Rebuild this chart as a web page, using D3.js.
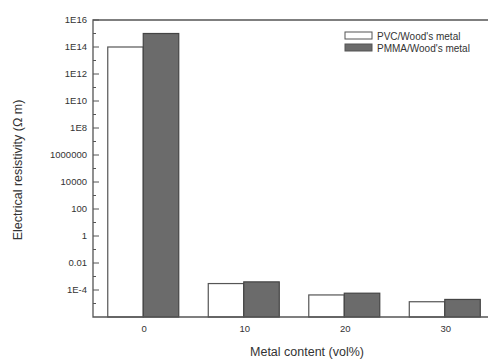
<!DOCTYPE html>
<html lang="en">
<meta charset="utf-8">
<style>
body { margin: 0; background: #fff; }
text { font-family: "Liberation Sans", Arial, sans-serif; fill: #333; }
</style>
<body>
<script src="https://cdnjs.cloudflare.com/ajax/libs/d3/7.8.5/d3.min.js"></script>
<div id="chart"></div>
<script>
// data
var contents = [0, 10, 20, 30];
var pvc = [1e14, 3e-4, 4.3e-5, 1.35e-5];
var pmma = [1e15, 4e-4, 5.8e-5, 2e-5];
var seriesNames = ["PVC/Wood's metal", "PMMA/Wood's metal"];
var yTickLabels = ["1E-4", "0.01", "1", "100", "10000", "1000000", "1E8", "1E10", "1E12", "1E14", "1E16"];
var yTickValues = [1e-4, 1e-2, 1, 1e2, 1e4, 1e6, 1e8, 1e10, 1e12, 1e14, 1e16];

var width = 488, height = 360;
var margin = {top: 20, right: 0, bottom: 43, left: 93};

var svg = d3.select("#chart").append("svg")
    .attr("width", width)
    .attr("height", height);

var x = d3.scaleLinear()
    .domain([-5, 34.3])
    .range([margin.left, width - margin.right]);

var y = d3.scaleLog()
    .domain([1e-6, 1e16])
    .range([height - margin.bottom, margin.top]);

var barW = 35.5;

// bars
var groups = svg.selectAll(".grp")
    .data(contents)
  .enter().append("g")
    .attr("class", "grp");

groups.append("rect")
    .attr("x", function(d) { return x(d) - barW; })
    .attr("y", function(d, i) { return y(pvc[i]); })
    .attr("width", barW)
    .attr("height", function(d, i) { return y(1e-6) - y(pvc[i]); })
    .style("fill", "#fff")
    .style("stroke", "#555")
    .style("stroke-width", 1.2);

groups.append("rect")
    .attr("x", function(d) { return x(d); })
    .attr("y", function(d, i) { return y(pmma[i]); })
    .attr("width", barW)
    .attr("height", function(d, i) { return y(1e-6) - y(pmma[i]); })
    .style("fill", "#6b6b6b")
    .style("stroke", "#444")
    .style("stroke-width", 1.2);

// frame
var x0 = margin.left, x1 = width - margin.right, yT = margin.top, yB = height - margin.bottom;
svg.append("path")
    .attr("d", "M" + x1 + "," + yT + "H" + x0 + "V" + yB + "H" + x1)
    .style("fill", "none")
    .style("stroke", "#555")
    .style("stroke-width", 1.3);

// y axis ticks (inward)
var minors = d3.range(-5, 16, 2).map(function(p) { return Math.pow(10, p); });
svg.selectAll(".minor")
    .data(minors)
  .enter().append("line")
    .attr("x1", x0).attr("x2", x0 + 3)
    .attr("y1", function(d) { return y(d); })
    .attr("y2", function(d) { return y(d); })
    .style("stroke", "#555");

svg.selectAll(".major")
    .data(yTickValues)
  .enter().append("line")
    .attr("x1", x0).attr("x2", x0 + 6)
    .attr("y1", function(d) { return y(d); })
    .attr("y2", function(d) { return y(d); })
    .style("stroke", "#555");

svg.selectAll(".ylab")
    .data(yTickValues)
  .enter().append("text")
    .attr("x", x0 - 6)
    .attr("y", function(d) { return y(d); })
    .attr("dy", "0.35em")
    .attr("text-anchor", "end")
    .style("font-size", "9.5px")
    .text(function(d, i) { return yTickLabels[i]; });

// x labels
svg.selectAll(".xlab")
    .data(contents)
  .enter().append("text")
    .attr("x", function(d) { return x(d) + 1; })
    .attr("y", yB + 15)
    .attr("text-anchor", "middle")
    .style("font-size", "9.5px")
    .text(function(d) { return d; });

// axis titles
svg.append("text")
    .attr("x", 307)
    .attr("y", 356)
    .attr("text-anchor", "middle")
    .style("font-size", "12.5px")
    .text("Metal content (vol%)");

svg.append("text")
    .attr("transform", "translate(22,170) rotate(-90)")
    .attr("text-anchor", "middle")
    .style("font-size", "12.5px")
    .text("Electrical resistivity  (\u03a9 m)");

// legend
var legend = svg.selectAll(".leg")
    .data(seriesNames)
  .enter().append("g")
    .attr("transform", function(d, i) { return "translate(345," + (32 + i * 12) + ")"; });

legend.append("rect")
    .attr("width", 27)
    .attr("height", 7)
    .style("fill", function(d, i) { return i ? "#6b6b6b" : "#fff"; })
    .style("stroke", "#555");

legend.append("text")
    .attr("x", 32)
    .attr("y", 4)
    .attr("dy", "0.35em")
    .style("font-size", "10px")
    .text(function(d) { return d; });
</script>
